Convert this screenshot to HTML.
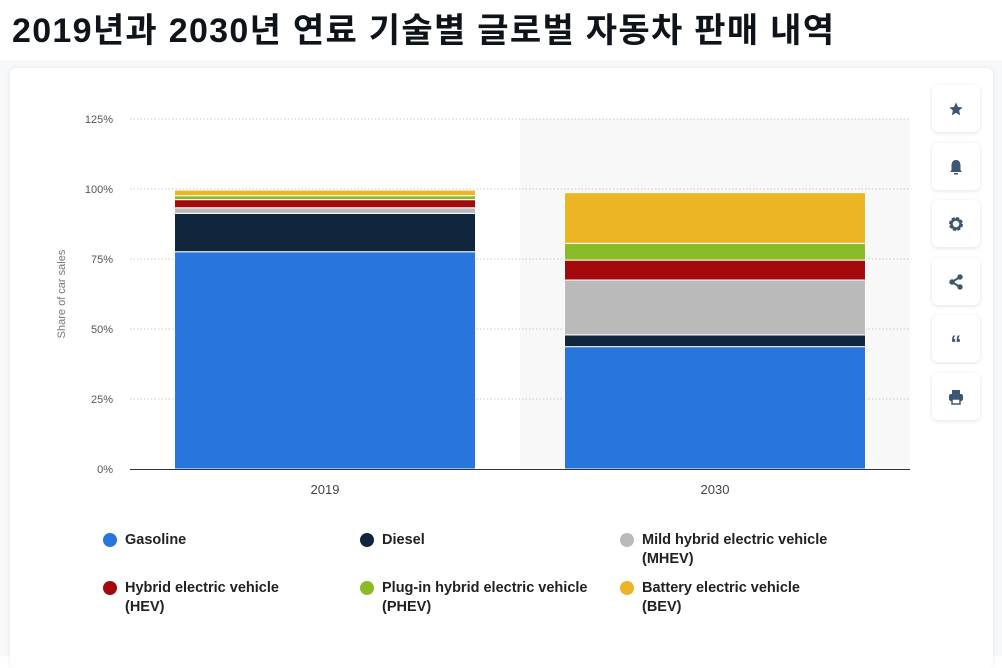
<!DOCTYPE html>
<html><head><meta charset="utf-8"><style>
body{margin:0;width:1002px;height:656px;background:#fff;font-family:"Liberation Sans","Noto Sans CJK KR",sans-serif;position:relative;overflow:hidden}
h1{position:absolute;left:12px;top:3px;margin:0;font-size:34px;font-weight:bold;color:#0f141a;letter-spacing:1.3px;white-space:nowrap;font-family:"Liberation Sans","Noto Sans CJK KR",sans-serif}
#bg{position:absolute;left:0;top:60px;width:1002px;height:596px;background:#f7f8f9}
#card{position:absolute;left:10px;top:68px;width:983px;height:600px;background:#fff;border-radius:6px;box-shadow:0 0 4px rgba(0,0,0,.08)}
.btn{position:absolute;left:932px;width:48px;height:47px;background:#fff;border-radius:6px;box-shadow:0 1px 4px rgba(0,0,0,.12);display:flex;align-items:center;justify-content:center}
.leg{position:absolute;font-size:14.5px;color:#222;font-weight:bold;line-height:19px}
.dot{position:absolute;width:14px;height:14px;border-radius:50%}
</style></head><body>
<h1>2019년과 2030년 연료 기술별 글로벌 자동차 판매 내역</h1>
<div id="bg"></div>
<div id="card"></div>
<svg id="chart" style="position:absolute;left:0;top:0" width="1002" height="656"></svg>
<div class="btn" style="top:85px"><svg width="16" height="16" viewBox="0 0 24 24"><path fill="#3d5674" d="M12 2l3 7 7 .6-5.3 4.7 1.6 7.2L12 17.8 5.7 21.5l1.6-7.2L2 9.6 9 9z"/></svg></div>
<div class="btn" style="top:143px"><svg width="14" height="16" viewBox="0 0 14 16"><path fill="#3d5674" d="M7 1C3.5 1 2.5 4 2.5 6.5V11L1 13h12l-1.5-2V6.5C11.5 4 10.5 1 7 1z"/><rect x="5" y="14" width="4" height="1.5" fill="#3d5674"/></svg></div>
<div class="btn" style="top:200px"><svg width="16" height="16" viewBox="0 0 16 16"><circle cx="8" cy="8" r="5.5" fill="none" stroke="#3d5674" stroke-width="3" stroke-dasharray="3 1.3"/><circle cx="8" cy="8" r="4.5" fill="none" stroke="#3d5674" stroke-width="2.5"/></svg></div>
<div class="btn" style="top:258px"><svg width="16" height="16" viewBox="0 0 16 16"><line x1="4" y1="8" x2="12" y2="3" stroke="#3d5674" stroke-width="2"/><line x1="4" y1="8" x2="12" y2="13" stroke="#3d5674" stroke-width="2"/><circle cx="4" cy="8" r="2.7" fill="#3d5674"/><circle cx="12" cy="3" r="2.7" fill="#3d5674"/><circle cx="12" cy="13" r="2.7" fill="#3d5674"/></svg></div>
<div class="btn" style="top:315px"><span style="color:#3d5674;font-size:22px;font-weight:bold;line-height:10px;margin-top:10px">&#8220;</span></div>
<div class="btn" style="top:373px"><svg width="16" height="16" viewBox="0 0 16 16"><rect x="4" y="1" width="8" height="4" fill="#3d5674"/><rect x="1" y="5" width="14" height="7" rx="2" fill="#3d5674"/><rect x="4" y="10" width="8" height="5" fill="#fff" stroke="#3d5674" stroke-width="1.5"/></svg></div>
<div id="legend"></div>
<script>
const categories=["2019","2030"];
const seriesNames=["Gasoline","Diesel","Mild hybrid electric vehicle (MHEV)","Hybrid electric vehicle (HEV)","Plug-in hybrid electric vehicle (PHEV)","Battery electric vehicle (BEV)"];
const gasoline=[77.6,43.7];
const diesel=[13.7,4.2];
const mhev=[2.0,19.6];
const hev=[2.9,7.1];
const phev=[1.4,6.0];
const bev=[2.0,18.1];
const yTicks=[0,25,50,75,100,125];
const colors=["#2876dd","#10263d","#bababa","#a30a0d","#8abc29","#ecb526"];
const series=[gasoline,diesel,mhev,hev,phev,bev];
const NS="http://www.w3.org/2000/svg";
const svg=document.getElementById('chart');
const x0=130,x1=910,y0=469,ppu=2.8;
const y=v=>y0-v*ppu;
const band=(x1-x0)/categories.length;
function mk(t,a){const e=document.createElementNS(NS,t);for(const k in a)e.setAttribute(k,a[k]);svg.appendChild(e);return e;}
const hl=mk('rect',{x:x0+band,y:y(125),width:band,height:y0-y(125),fill:'#f8f8f8'});


yTicks.forEach(t=>{
 if(t>0){const g=mk('line',{x1:x0,x2:x1,y1:y(t),y2:y(t),stroke:'#c8c8c8','stroke-dasharray':'1.5 2','stroke-width':1});
 
 }
 const l=mk('text',{x:113,y:y(t)+4,'text-anchor':'end','font-size':11,fill:'#555','font-family':'Liberation Sans'});
 l.textContent=t+'%';
 
 
});
const yt=mk('text',{transform:'translate(65,294) rotate(-90)','text-anchor':'middle','font-size':11,fill:'#777','font-family':'Liberation Sans'});
yt.textContent='Share of car sales';


const bw=301;
categories.forEach((c,i)=>{
 const cx=x0+band*(i+0.5);let acc=0;
 series.forEach((s,k)=>{
  const v=s[i];
  const r=mk('rect',{x:cx-bw/2,y:y(acc+v),width:bw,height:v*ppu,fill:colors[k],stroke:'#fff','stroke-width':1});
  
  
  acc+=v;
 });
 const t=mk('text',{x:cx,y:494,'text-anchor':'middle','font-size':13,fill:'#444','font-family':'Liberation Sans'});
 t.textContent=c;
 
 
});
const ax=mk('line',{x1:x0,x2:x1,y1:y0+0.5,y2:y0+0.5,stroke:'#333','stroke-width':1});


const leg=document.getElementById('legend');
const lx=[103,360,620],ly=[531,579];
seriesNames.forEach((n,k)=>{
 const d=document.createElement('div');
 d.className='dot';d.style.left=lx[k%3]+'px';d.style.top=(ly[Math.floor(k/3)]+2)+'px';d.style.background=colors[k];
 
 
 leg.appendChild(d);
 const t=document.createElement('div');
 t.className='leg';t.style.left=(lx[k%3]+22)+'px';t.style.top=ly[Math.floor(k/3)]+'px';
 const m=n.match(/^(.*) (\(.*\))$/);
 t.innerHTML=m?m[1]+'<br>'+m[2]:n;
 
 
 leg.appendChild(t);
});
</script>
</body></html>
